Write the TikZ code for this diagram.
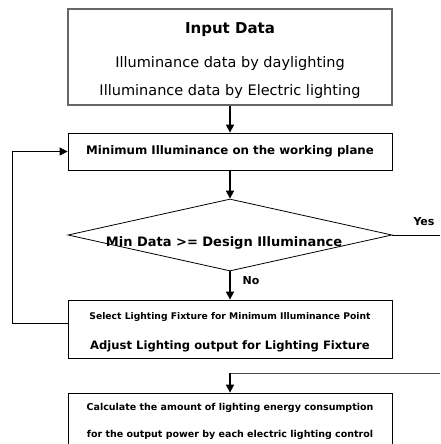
\documentclass[tikz,border=0pt]{standalone}
\usepackage{fontspec}
\setmainfont{DejaVu Sans}
\usetikzlibrary{positioning, shapes.geometric, arrows.meta}

\begin{document}
\begin{tikzpicture}[x=1pt, y=-1pt,
    box/.style={draw=black, line width=0.8pt, rectangle, minimum width=324pt, inner sep=0pt, align=center},
    flow/.style={-{Triangle[length=8pt, width=8pt]}, line width=1.6pt},
    link/.style={line width=0.8pt}]
    \useasboundingbox (0, 0) rectangle (440, 444);
    \clip (0, 0) rectangle (440, 444);

    % process boxes, top to bottom
    \node[box, draw=black!60, line width=1.2pt, minimum height=96pt] (input) at (230, 57)
        {{\fontsize{15}{18}\bfseries\rule{0pt}{18pt}Input Data}\\[18pt]
         {\fontsize{14.5}{17}\selectfont Illuminance data by daylighting}\\[13pt]
         {\fontsize{14.5}{17}\selectfont Illuminance data by Electric lighting}};
    \node[box, minimum height=37pt, font=\fontsize{11.8}{14}\bfseries] (minill) at (230, 151.5)
        {Minimum Illuminance on the working plane};
    \node[draw=black, line width=0.8pt, diamond, minimum width=324pt, minimum height=72pt, inner sep=0pt] (check) at (230, 235) {};
    \node[font=\fontsize{13}{15}\bfseries] (checktext) at (224, 243) {Min Data >= Design Illuminance};
    \node[box, minimum height=58pt] (adjust) at (230, 329)
        {{\fontsize{9.2}{11}\bfseries\rule{0pt}{13pt}Select Lighting Fixture for Minimum Illuminance Point}\\[18pt]
         {\fontsize{11.6}{14}\bfseries Adjust Lighting output for Lighting Fixture}};
    \node[box, minimum height=56pt, font=\fontsize{9.5}{11}\bfseries] (calc) at (230, 421)
        {Calculate the amount of lighting energy consumption\\[16pt]
         for the output power by each electric lighting control};

    % branch labels
    \node[font=\fontsize{11}{13}\bfseries] (yes) at (424, 222) {Yes};
    \node[font=\fontsize{11}{13}\bfseries] (no) at (251, 281) {No};

    \coordinate (yesend) at (440, 235);
    \coordinate (merge) at (440, 373);
    \coordinate (bend) at (230, 373);

    \draw[flow] (input) -- (minill);
    \draw[flow] (minill) -- (check);
    \draw[flow] (check) -- (adjust);
    \draw[link] (check.east) -- (yesend);
    \draw[link, -{Triangle[length=8pt, width=8pt]}] ([yshift=6pt]adjust.west) -- ++(-55, 0) |- (minill.west);
    \draw[link, draw=black!70] (merge) -- (bend);
    \draw[flow] (bend) -- (calc);
\end{tikzpicture}
\end{document}
